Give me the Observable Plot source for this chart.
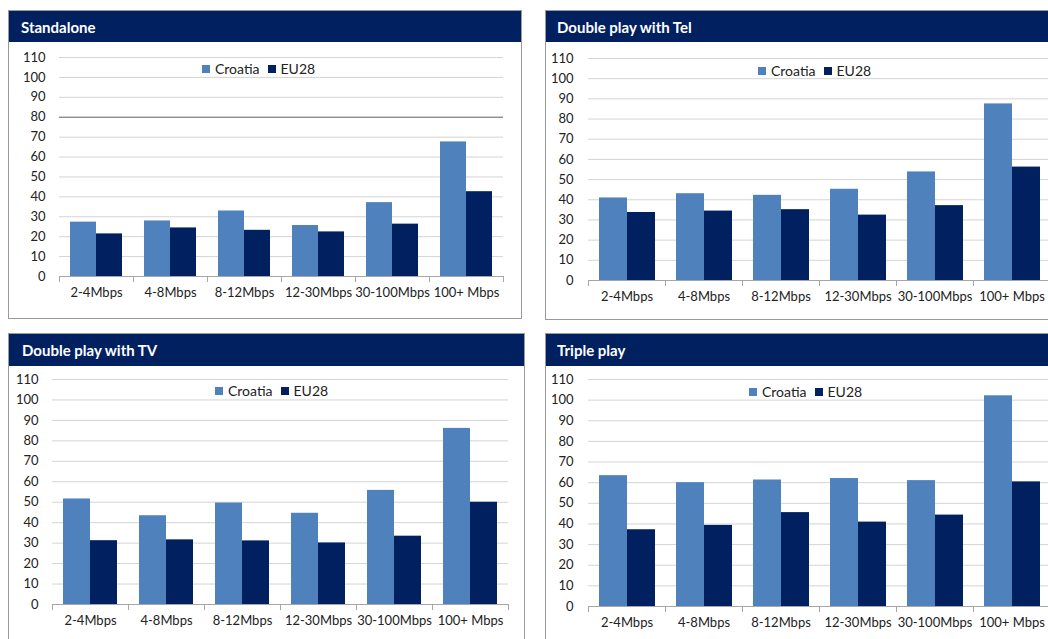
<!DOCTYPE html>
<html>
<head>
<meta charset="utf-8">
<script src="https://cdn.jsdelivr.net/npm/d3@7"></script>
<script src="https://cdn.jsdelivr.net/npm/@observablehq/plot@0.6"></script>
<style>
  html, body { margin: 0; padding: 0; background: #fff; }
  body { width: 1048px; height: 639px; overflow: hidden; position: relative; font-family: Lato, "Open Sans", sans-serif; }
  .panel { position: absolute; box-sizing: border-box; border: 1px solid #9a9a9a; background: #fff; overflow: hidden; }
  .header { position: absolute; left: 0; top: 0; right: 0; background: #002060; color: #fff; font-weight: bold; font-size: 15px; box-sizing: border-box; display: flex; align-items: center; }
  .chart { position: absolute; left: 0; }
  .legend { position: absolute; display: flex; align-items: center; font-size: 14px; color: #222; white-space: nowrap; }
  .legend .sw { display: inline-block; width: 8px; height: 8px; margin-right: 5px; }
  .legend .item { display: flex; align-items: center; margin-right: 8px; }
</style>
</head>
<body>
<script>
// ---- data ----
const categories = ["2-4Mbps", "4-8Mbps", "8-12Mbps", "12-30Mbps", "30-100Mbps", "100+ Mbps"];
const series = ["Croatia", "EU28"];
const titles = ["Standalone", "Double play with Tel", "Double play with TV", "Triple play"];
const standaloneCroatia = [27.3, 27.9, 32.9, 25.6, 37.1, 67.6];
const standaloneEU28    = [21.4, 24.4, 23.2, 22.4, 26.3, 42.6];
const telCroatia        = [40.9, 43.0, 42.2, 45.2, 53.8, 87.5];
const telEU28           = [33.7, 34.4, 35.1, 32.4, 37.1, 56.2];
const tvCroatia         = [51.6, 43.4, 49.6, 44.6, 55.8, 86.1];
const tvEU28            = [31.2, 31.6, 31.1, 30.1, 33.4, 50.0];
const tripleCroatia     = [63.4, 60.0, 61.3, 62.0, 61.0, 102.1];
const tripleEU28        = [37.2, 39.3, 45.5, 40.9, 44.3, 60.4];
const yTicks = [0, 10, 20, 30, 40, 50, 60, 70, 80, 90, 100, 110];

// ---- styles / layout ----
const colors = ["#4f81bd", "#002060"];
const layout = [
  {left: 8,   top: 10,  w: 514, h: 309, header: 31, titlePad: 12, svgH: 276, mt: 15, mb: 42, ml: 48, mr: 16, po: 0.40, tickPad: 14, legLeft: 193, legTop: 27, darkRule: true},
  {left: 545, top: 10,  w: 525, h: 310, header: 31, titlePad: 11, svgH: 278, mt: 16, mb: 40, ml: 40, mr: 17, po: 0.37, tickPad: 15, legLeft: 212, legTop: 29},
  {left: 8,   top: 333, w: 517, h: 330, header: 32, titlePad: 13, svgH: 290, mt: 13, mb: 52, ml: 41, mr: 15, po: 0.38, tickPad: 14, legLeft: 206, legTop: 25},
  {left: 545, top: 333, w: 525, h: 330, header: 32, titlePad: 11, svgH: 290, mt: 13, mb: 50, ml: 40, mr: 17, po: 0.37, tickPad: 15, legLeft: 203, legTop: 26}
];
const seriesData = [
  [standaloneCroatia, standaloneEU28],
  [telCroatia, telEU28],
  [tvCroatia, tvEU28],
  [tripleCroatia, tripleEU28]
];

seriesData.forEach((pair, i) => {
  const L = layout[i];
  const rows = [];
  categories.forEach((c, j) => {
    series.forEach((s, k) => rows.push({category: c, series: s, value: pair[k][j]}));
  });

  const panel = document.createElement("div");
  panel.className = "panel";
  Object.assign(panel.style, {left: L.left + "px", top: L.top + "px", width: L.w + "px", height: L.h + "px"});
  const header = document.createElement("div");
  header.className = "header";
  header.style.height = L.header + "px";
  header.style.paddingLeft = L.titlePad + "px";
  header.textContent = titles[i];
  panel.appendChild(header);

  const innerW = L.w - 2;
  const innerH = L.svgH - L.mt - L.mb;
  const marks = [
    Plot.gridY(yTicks, {stroke: "#d4d4d4", strokeOpacity: 1}),
  ];
  if (L.darkRule) marks.push(Plot.ruleY([80], {stroke: "#6e6e6e"}));
  marks.push(
    Plot.barY(rows, {fx: "category", x: "series", y: "value", fill: "series"}),
    Plot.ruleY([0], {stroke: "#a6a6a6"}),
    Plot.frame({anchor: "left", stroke: "#a6a6a6", insetTop: innerH, insetBottom: -5}),
    Plot.frame({anchor: "right", stroke: "#a6a6a6", insetTop: innerH, insetBottom: -5})
  );

  const chart = Plot.plot({
    width: innerW,
    height: L.svgH,
    marginTop: L.mt,
    marginBottom: L.mb,
    marginLeft: L.ml,
    marginRight: L.mr,
    style: {fontFamily: "Lato, 'Open Sans', sans-serif", fontSize: "13px", color: "#222", background: "transparent", overflow: "visible"},
    fx: {domain: categories, paddingInner: 0, paddingOuter: 0, label: null, axis: "bottom", tickSize: 0, tickPadding: 11, fontSize: 13},
    x: {domain: series, axis: null, paddingInner: 0, paddingOuter: L.po},
    y: {domain: [0, 110], ticks: yTicks, tickSize: 0, tickPadding: L.tickPad, label: null, tickFormat: d => String(d), fontSize: 14},
    color: {domain: series, range: colors},
    marks
  });
  chart.classList.add("chart");
  chart.style.top = L.header + "px";
  panel.appendChild(chart);

  const legend = document.createElement("div");
  legend.className = "legend";
  legend.style.left = L.legLeft + "px";
  legend.style.top = (L.header + L.legTop - 9) + "px";
  series.forEach((s, k) => {
    const item = document.createElement("span");
    item.className = "item";
    const sw = document.createElement("span");
    sw.className = "sw";
    sw.style.background = colors[k];
    item.appendChild(sw);
    item.appendChild(document.createTextNode(s));
    legend.appendChild(item);
  });
  panel.appendChild(legend);

  document.body.appendChild(panel);
});
</script>
</body>
</html>
